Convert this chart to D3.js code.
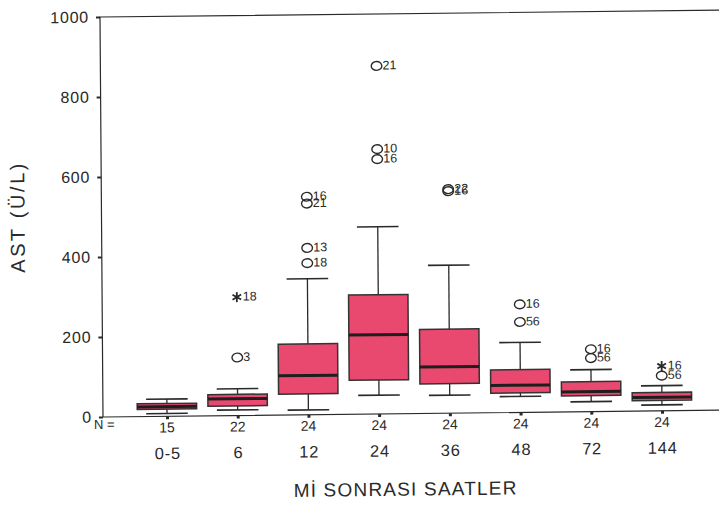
<!DOCTYPE html>
<html>
<head>
<meta charset="utf-8">
<script src="https://cdn.jsdelivr.net/npm/d3@7"></script>
<style>
  html, body { margin: 0; padding: 0; background: #fff; }
  svg { display: block; }
  text { font-family: Arial, "Liberation Sans", Helvetica, sans-serif; fill: #2a2a2a; }
</style>
</head>
<body>
<svg id="chart" width="719" height="510"></svg>
<script>
// AST (U/L) by hours after MI — box plots
const categories  = ["0-5", "6", "12", "24", "36", "48", "72", "144"];
const nCounts     = [15, 22, 24, 24, 24, 24, 24, 24];
const whiskerLow  = [7, 14, 12, 47, 45, 40, 25, 15];
const q1          = [18, 24, 52, 85, 74, 49, 40, 26];
const medians     = [24, 42, 98, 198, 116, 68, 50, 34];
const q3          = [32, 53, 177, 298, 210, 107, 75, 46];
const whiskerHigh = [43, 67, 340, 468, 370, 175, 105, 63];
const yTicks      = [0, 200, 400, 600, 800, 1000];

// outliers: [category, value, case label, kind] ("o" = outlier, "*" = extreme)
const outliers = [
  ["6", 145, "3", "o"], ["6", 296, "18", "*"],
  ["12", 545, "16", "o"], ["12", 528, "21", "o"], ["12", 417, "13", "o"], ["12", 379, "18", "o"],
  ["24", 870, "21", "o"], ["24", 662, "10", "o"], ["24", 637, "16", "o"],
  ["36", 560, "22", "o"], ["36", 555, "16", "o"],
  ["48", 270, "16", "o"], ["48", 226, "56", "o"],
  ["72", 156, "16", "o"], ["72", 134, "56", "o"],
  ["144", 112, "16", "*"], ["144", 88, "56", "o"]
];

const boxFill = "#e9496f";
const ink = "#2a2a2a";

const plotLeft = 103, plotRight = 726, plotTop = 17, plotBottom = 417;

// the printed page sits slightly askew: a small shear about the lower-left corner
const k = 0.011, m = 0.0075;
const svg = d3.select("#chart");
const g = svg.append("g")
  .attr("transform", `matrix(1,${-k},${m},1,${-m * plotBottom},${k * plotLeft})`);

const x = d3.scalePoint().domain(categories).range([plotLeft, plotRight]).padding(0.905);
const y = d3.scaleLinear().domain([0, 1000]).range([plotBottom, plotTop]);
const step = x.step();
const boxW = step * 0.84;
const capW = boxW * 0.7;

// plot frame
g.append("rect")
  .attr("x", plotLeft).attr("y", plotTop)
  .attr("width", plotRight - plotLeft).attr("height", plotBottom - plotTop)
  .attr("fill", "none").attr("stroke", ink).attr("stroke-width", 1.2);

// y axis
const yAxis = g.append("g")
  .attr("transform", `translate(${plotLeft},0)`)
  .call(d3.axisLeft(y).tickValues(yTicks).tickFormat(d3.format("d")).tickSize(4).tickPadding(7));
yAxis.select(".domain").remove();
yAxis.selectAll(".tick line").attr("stroke", ink).attr("stroke-width", 2);
yAxis.selectAll(".tick text").attr("font-size", 16).attr("fill", ink)
  .attr("letter-spacing", 0.8)
  .style("font-family", "Arial, 'Liberation Sans', sans-serif");

// x axis with category labels
const xAxis = g.append("g")
  .attr("transform", `translate(0,${plotBottom})`)
  .call(d3.axisBottom(x).tickSize(3).tickPadding(28));
xAxis.select(".domain").remove();
xAxis.selectAll(".tick line").attr("stroke", ink).attr("stroke-width", 3);
xAxis.selectAll(".tick text").attr("font-size", 16.5).attr("fill", ink)
  .attr("letter-spacing", 0.8)
  .style("font-family", "Arial, 'Liberation Sans', sans-serif");

// N row
g.append("text").attr("x", 94).attr("y", 429).attr("font-size", 13).text("N =");
g.selectAll(".ncount").data(categories).join("text")
  .attr("class", "ncount")
  .attr("x", d => x(d)).attr("y", 433)
  .attr("text-anchor", "middle").attr("font-size", 14)
  .text((d, i) => nCounts[i]);

// boxes
const boxes = g.selectAll(".box").data(categories).join("g").attr("class", "box");

boxes.append("line") // whisker stem
  .attr("x1", d => x(d)).attr("x2", d => x(d))
  .attr("y1", (d, i) => y(whiskerLow[i])).attr("y2", (d, i) => y(whiskerHigh[i]))
  .attr("stroke", ink).attr("stroke-width", 1.3);

boxes.append("line") // upper cap
  .attr("x1", d => x(d) - capW / 2).attr("x2", d => x(d) + capW / 2)
  .attr("y1", (d, i) => y(whiskerHigh[i])).attr("y2", (d, i) => y(whiskerHigh[i]))
  .attr("stroke", ink).attr("stroke-width", 1.6);

boxes.append("line") // lower cap
  .attr("x1", d => x(d) - capW / 2).attr("x2", d => x(d) + capW / 2)
  .attr("y1", (d, i) => y(whiskerLow[i])).attr("y2", (d, i) => y(whiskerLow[i]))
  .attr("stroke", ink).attr("stroke-width", 1.6);

boxes.append("rect")
  .attr("x", d => x(d) - boxW / 2).attr("width", boxW)
  .attr("y", (d, i) => y(q3[i])).attr("height", (d, i) => y(q1[i]) - y(q3[i]))
  .attr("fill", boxFill).attr("stroke", "#333").attr("stroke-width", 1.5);

boxes.append("line") // median
  .attr("x1", d => x(d) - boxW / 2).attr("x2", d => x(d) + boxW / 2)
  .attr("y1", (d, i) => y(medians[i])).attr("y2", (d, i) => y(medians[i]))
  .attr("stroke", "#1e1e1e").attr("stroke-width", 3);

// outliers and extremes
const star = d3.symbol().type(d3.symbolAsterisk || d3.symbolCross).size(70);
const out = g.selectAll(".outlier").data(outliers).join("g").attr("class", "outlier")
  .attr("transform", d => `translate(${x(d[0])},${y(d[1])})`);

out.filter(d => d[3] === "o").append("ellipse")
  .attr("rx", 5.3).attr("ry", 4.4)
  .attr("fill", "none").attr("stroke", ink).attr("stroke-width", 1.4);

out.filter(d => d[3] === "*").append("path")
  .attr("d", star).attr("fill", "none").attr("stroke", ink).attr("stroke-width", 1.8);

out.append("text")
  .attr("x", 6).attr("y", 3.5)
  .attr("font-size", 12.5)
  .text(d => d[2]);

// axis titles
g.append("text")
  .attr("transform", "translate(26,216) rotate(-90)")
  .attr("text-anchor", "middle").attr("font-size", 20)
  .attr("letter-spacing", 2.6)
  .text("AST (Ü/L)");

g.append("text")
  .attr("x", 405).attr("y", 499)
  .attr("text-anchor", "middle").attr("font-size", 19)
  .attr("letter-spacing", 1.2)
  .text("Mİ SONRASI SAATLER");
</script>
</body>
</html>
